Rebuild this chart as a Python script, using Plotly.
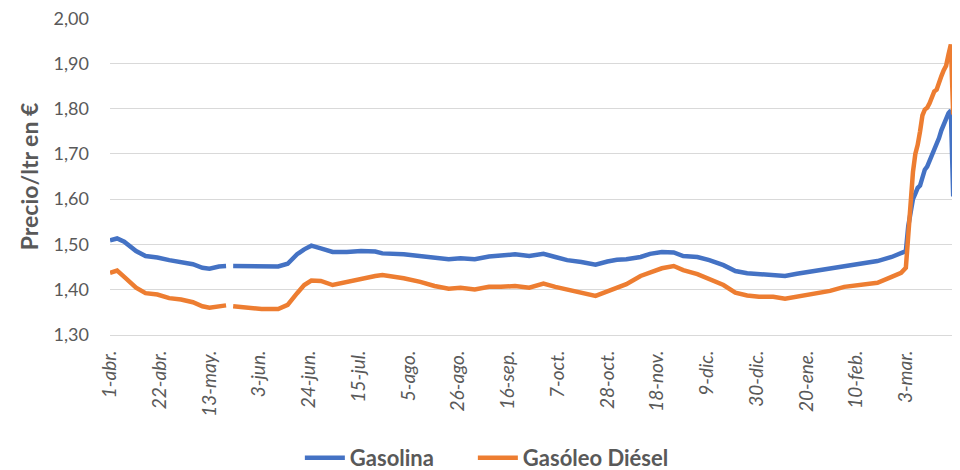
import plotly.graph_objects as go

# precio medio diario por litro (euros)
fechas = [
    "2021-04-01", "2021-04-04", "2021-04-07", "2021-04-12", "2021-04-16", "2021-04-21",
    "2021-04-26", "2021-05-01", "2021-05-06", "2021-05-10", "2021-05-13", "2021-05-17",
    "2021-05-20", "2021-05-21", "2021-05-23", "2021-05-29", "2021-06-04", "2021-06-11",
    "2021-06-15", "2021-06-19", "2021-06-22", "2021-06-25", "2021-06-29", "2021-07-04",
    "2021-07-10", "2021-07-16", "2021-07-22", "2021-07-25", "2021-08-03", "2021-08-10",
    "2021-08-16", "2021-08-22", "2021-08-27", "2021-09-02", "2021-09-08", "2021-09-13",
    "2021-09-19", "2021-09-25", "2021-10-01", "2021-10-06", "2021-10-11", "2021-10-17",
    "2021-10-23", "2021-10-28", "2021-11-01", "2021-11-05", "2021-11-11", "2021-11-15",
    "2021-11-20", "2021-11-25", "2021-11-29", "2021-12-05", "2021-12-10", "2021-12-16",
    "2021-12-21", "2021-12-26", "2021-12-31", "2022-01-06", "2022-01-11", "2022-01-16",
    "2022-01-23", "2022-01-30", "2022-02-05", "2022-02-13", "2022-02-19", "2022-02-25",
    "2022-03-01", "2022-03-03", "2022-03-04", "2022-03-05", "2022-03-06", "2022-03-07",
    "2022-03-08", "2022-03-09", "2022-03-10", "2022-03-11", "2022-03-12", "2022-03-13",
    "2022-03-14", "2022-03-15", "2022-03-16", "2022-03-17", "2022-03-18", "2022-03-19",
    "2022-03-20", "2022-03-21", "2022-03-22", "2022-03-23",
]

gasolina = [
    1.509, 1.513, 1.506, 1.485, 1.474, 1.471,
    1.465, 1.461, 1.456, 1.448, 1.446, 1.451,
    1.452, None, 1.452, 1.452, 1.451, 1.451,
    1.457, 1.478, 1.489, 1.497, 1.491, 1.483,
    1.483, 1.485, 1.484, 1.480, 1.478, 1.474,
    1.472, 1.467, 1.469, 1.467, 1.473, 1.475,
    1.478, 1.474, 1.479, 1.472, 1.465, 1.461,
    1.455, 1.462, 1.466, 1.467, 1.472, 1.479,
    1.483, 1.482, 1.474, 1.472, 1.465, 1.454,
    1.441, 1.436, 1.434, 1.434, 1.430, 1.435,
    1.441, 1.447, 1.452, 1.460, 1.463, 1.472,
    1.479, 1.485, 1.540, 1.575, 1.600, 1.612,
    1.625, 1.630, 1.650, 1.665, 1.672, 1.685,
    1.692, 1.705, 1.720, 1.735, 1.752, 1.765,
    1.778, 1.790, 1.796, 1.606,
]

diesel = [
    1.437, 1.442, 1.428, 1.404, 1.392, 1.389,
    1.381, 1.378, 1.372, 1.363, 1.360, 1.363,
    1.365, None, 1.363, 1.360, 1.357, 1.357,
    1.366, 1.392, 1.410, 1.420, 1.419, 1.410,
    1.417, 1.425, 1.430, 1.432, 1.425, 1.417,
    1.408, 1.402, 1.404, 1.400, 1.406, 1.406,
    1.408, 1.404, 1.413, 1.406, 1.400, 1.393,
    1.386, 1.396, 1.403, 1.412, 1.430, 1.438,
    1.447, 1.452, 1.443, 1.434, 1.423, 1.410,
    1.393, 1.387, 1.384, 1.384, 1.380, 1.384,
    1.391, 1.397, 1.406, 1.411, 1.415, 1.428,
    1.437, 1.448, 1.530, 1.600, 1.660, 1.700,
    1.720, 1.750, 1.785, 1.798, 1.802, 1.812,
    1.828, 1.838, 1.842, 1.860, 1.872, 1.885,
    1.895, 1.920, 1.942, 1.787,
]

tick_fechas = [
    "2021-04-01", "2021-04-22", "2021-05-13", "2021-06-03", "2021-06-24", "2021-07-15",
    "2021-08-05", "2021-08-26", "2021-09-16", "2021-10-07", "2021-10-28", "2021-11-18",
    "2021-12-09", "2021-12-30", "2022-01-20", "2022-02-10", "2022-03-03",
]
tick_textos = [
    "1-abr.", "22-abr.", "13-may.", "3-jun.", "24-jun.", "15-jul.",
    "5-ago.", "26-ago.", "16-sep.", "7-oct.", "28-oct.", "18-nov.",
    "9-dic.", "30-dic.", "20-ene.", "10-feb.", "3-mar.",
]
precios_eje = [1.30, 1.40, 1.50, 1.60, 1.70, 1.80, 1.90, 2.00]

gris = "#595959"
fuente = "Lato"

fig = go.Figure()
fig.add_trace(go.Scatter(x=fechas, y=gasolina, name="Gasolina", mode="lines",
                         line=dict(color="#4472C4", width=4.5), connectgaps=False,
                         legendwidth=118))
fig.add_trace(go.Scatter(x=fechas, y=diesel, name="Gasóleo Diésel", mode="lines",
                         line=dict(color="#ED7D31", width=4.5), connectgaps=False))

# la pagina tiene 8px de margen en el body, por eso 952x462
fig.update_layout(
    width=952, height=462,
    margin=dict(l=102, r=5, t=10, b=135),
    plot_bgcolor="white", paper_bgcolor="white",
    separators=",.",
    font=dict(family=fuente, color=gris),
    showlegend=True,
    legend=dict(orientation="h", xref="container", yref="container",
                x=0.503, xanchor="center", y=0.026, yanchor="middle",
                font=dict(size=22, color=gris, weight="bold"), itemwidth=40),
)
fig.update_xaxes(
    type="date", range=["2021-04-01", "2022-03-23 18:00"],
    tickmode="array", tickvals=tick_fechas, ticktext=tick_textos,
    tickangle=-90, tickfont=dict(size=19, color=gris, style="italic"),
    ticklabelstandoff=7,
    showgrid=False, showline=True, linecolor="#D9D9D9", linewidth=1,
    ticks="", zeroline=False, automargin=False,
)
fig.update_yaxes(
    range=[1.2995, 2.0005], tickmode="array", tickvals=precios_eje, tickformat=".2f",
    tickfont=dict(size=18, color=gris), ticklabeloverflow="allow",
    gridcolor="#D9D9D9", gridwidth=1, zeroline=False, ticklabelstandoff=20,
    automargin=False,
    title=dict(text="Precio/ltr en €", font=dict(size=23, color=gris, weight="bold"), standoff=8),
)

fig.write_html("out.html")
